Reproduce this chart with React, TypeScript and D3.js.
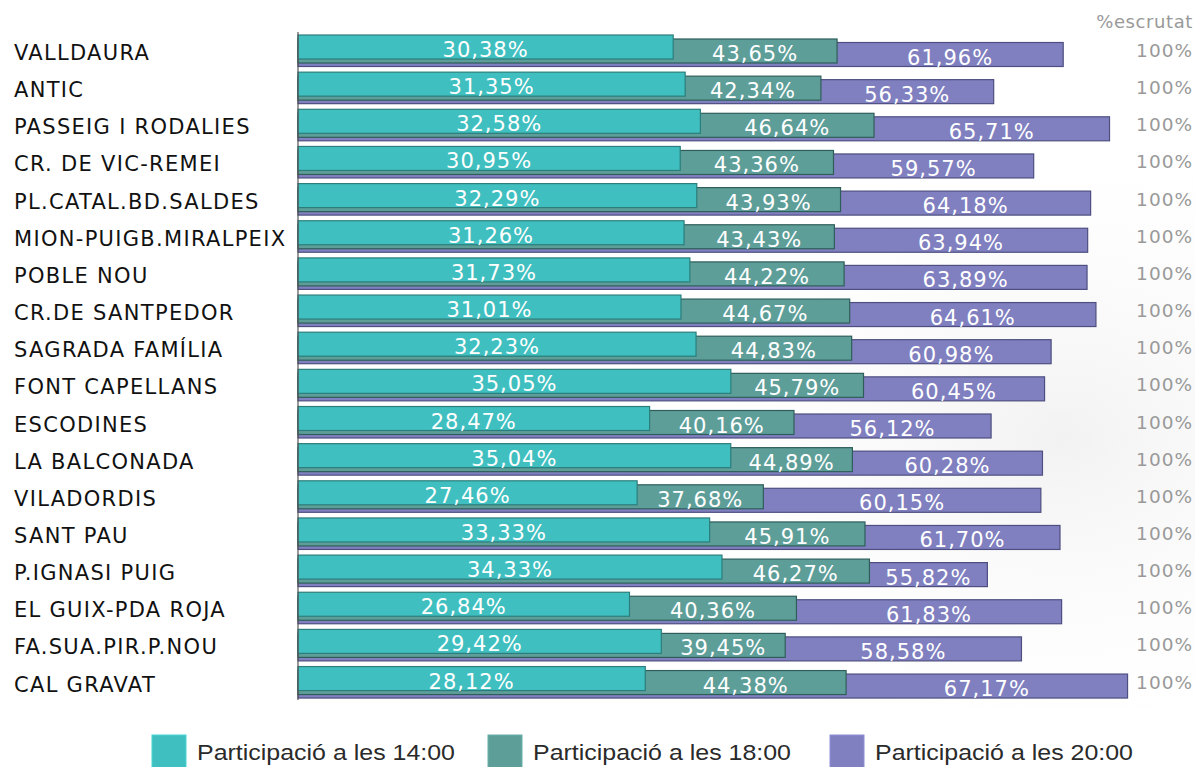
import React from "react";
import * as d3 from "d3";

const districts = [
  "VALLDAURA", "ANTIC", "PASSEIG I RODALIES", "CR. DE VIC-REMEI", "PL.CATAL.BD.SALDES",
  "MION-PUIGB.MIRALPEIX", "POBLE NOU", "CR.DE SANTPEDOR", "SAGRADA FAMÍLIA", "FONT CAPELLANS",
  "ESCODINES", "LA BALCONADA", "VILADORDIS", "SANT PAU", "P.IGNASI PUIG",
  "EL GUIX-PDA ROJA", "FA.SUA.PIR.P.NOU", "CAL GRAVAT",
];
const part14 = [30.38, 31.35, 32.58, 30.95, 32.29, 31.26, 31.73, 31.01, 32.23, 35.05, 28.47, 35.04, 27.46, 33.33, 34.33, 26.84, 29.42, 28.12];
const part18 = [43.65, 42.34, 46.64, 43.36, 43.93, 43.43, 44.22, 44.67, 44.83, 45.79, 40.16, 44.89, 37.68, 45.91, 46.27, 40.36, 39.45, 44.38];
const part20 = [61.96, 56.33, 65.71, 59.57, 64.18, 63.94, 63.89, 64.61, 60.98, 60.45, 56.12, 60.28, 60.15, 61.70, 55.82, 61.83, 58.58, 67.17];
const escrutat = [100, 100, 100, 100, 100, 100, 100, 100, 100, 100, 100, 100, 100, 100, 100, 100, 100, 100];
const seriesNames = ["Participació a les 14:00", "Participació a les 18:00", "Participació a les 20:00"];

const W = 1195, H = 767;
const fills = ["#40bfc0", "#5e9e99", "#8080c0"];
const strokes = ["#2b7e7b", "#2f5e5a", "#4e4e80"];
const offsets = [0, 4, 7.5];
const barH = 24;

const fmt = (v: number) => v.toFixed(2).replace(".", ",") + "%";

export default function App() {
  const x = d3.scaleLinear().domain([0, 100]).range([298, 298 + 1235]);
  const y = d3.scaleBand<string>().domain(districts).range([35, 35 + 37.15 * districts.length]).paddingInner(0).paddingOuter(0);
  const series = [part14, part18, part20];
  const legendX = [152, 488, 830];

  return (
    <svg width={W} height={H} style={{ position: "absolute", left: 0, top: 0, background: "#fff" }}>
      <defs>
        <radialGradient id="bg" cx="0.85" cy="0.6" r="0.5">
          <stop offset="0" stopColor="#ececec" stopOpacity="0.7" />
          <stop offset="1" stopColor="#ffffff" stopOpacity="0" />
        </radialGradient>
      </defs>
      <rect x={0} y={0} width={W} height={H} fill="#fff" />
      <rect x={300} y={30} width={W - 300} height={680} fill="url(#bg)" />
      <text x={1193} y={28} textAnchor="end" fontFamily="DejaVu Sans, Verdana, sans-serif" fontSize={18} letterSpacing={0.6} fill="#999">%escrutat</text>
      {districts.map((d, i) => {
        const top = y(d) as number;
        return (
          <g key={d}>
            <text x={14} y={top + 25} fontFamily="DejaVu Sans, Verdana, sans-serif" fontSize={21} letterSpacing={1.3} fill="#111">{d}</text>
            {[2, 1, 0].map((s) => (
              <rect key={s} x={x(0)} y={top + offsets[s]} width={x(series[s][i]) - x(0)} height={barH}
                fill={fills[s]} stroke={strokes[s]} strokeWidth={1.2} />
            ))}
            {[0, 1, 2].map((s) => {
              const start = s === 0 ? 0 : series[s - 1][i];
              const cx = (x(start) + x(series[s][i])) / 2;
              return (
                <text key={"t" + s} x={cx} y={top + offsets[s] + 22} textAnchor="middle"
                  fontFamily="DejaVu Sans, Verdana, sans-serif" fontSize={21} letterSpacing={1} fill="#fff">
                  {fmt(series[s][i])}
                </text>
              );
            })}
            <text x={1193} y={top + 22} textAnchor="end" fontFamily="DejaVu Sans, Verdana, sans-serif" fontSize={18.5} letterSpacing={1} fill="#999">
              {escrutat[i] + "%"}
            </text>
          </g>
        );
      })}
      <line x1={298} x2={298} y1={32} y2={700} stroke="#555" strokeWidth={1.2} />
      {seriesNames.map((n, k) => (
        <g key={n}>
          <rect x={legendX[k]} y={735} width={34} height={34} fill={fills[k]} stroke={d3.color(fills[k])!.brighter(0.3).toString()} strokeWidth={1} />
          <text x={legendX[k] + 45} y={760} fontFamily="Liberation Sans, Arial, sans-serif" fontSize={22} fill="#2a2a2a"
            textLength={258} lengthAdjust="spacingAndGlyphs">{n}</text>
        </g>
      ))}
    </svg>
  );
}
